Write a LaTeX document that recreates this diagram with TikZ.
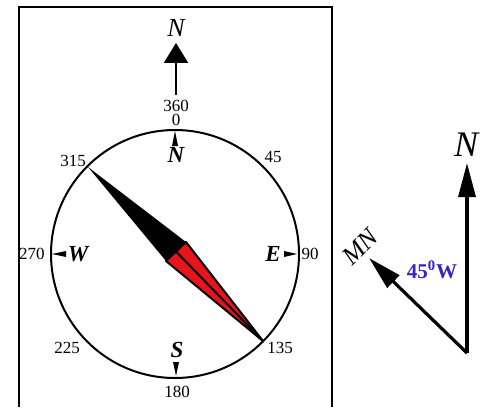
\documentclass[tikz,border=0pt]{standalone}
\usepackage{fontspec}
\setmainfont{Liberation Serif}
\usetikzlibrary{arrows.meta, positioning, calc}
\definecolor{mRed}{HTML}{E8141C}
\definecolor{mBlue}{HTML}{3B22C6}

\begin{document}
\begin{tikzpicture}[x=0.5pt, y=-0.5pt,
      num/.style={inner sep=0pt, font=\fontsize{8.5}{9}\selectfont},
      dirlbl/.style={inner sep=0pt, font=\fontsize{11.5}{12}\selectfont\bfseries\itshape},
      tickmark/.style={fill=black},
      bigarrow/.style={-{Triangle[length=17pt,width=8.5pt]}, line width=1.6pt}]
    \useasboundingbox (0,0) rectangle (492,407);
    % frame
    \draw[line width=0.75pt] (19,407) -- (19,7) -- (332,7) -- (332,407);
    % north arrow above the dial
    \node[inner sep=0pt, font=\fontsize{13}{13}\selectfont\itshape] (topN) at (176,28) {N};
    \node[num] (n360) at (176,106) {360};
    \node[num] (n0) at (176,120) {0};
    \draw[-{Triangle[length=10pt,width=12pt]}, line width=1pt,
          shorten <=2.5pt, shorten >=3pt] (n360) -- (topN);
    % dial
    \coordinate (c) at (175,254);
    \draw[line width=1pt] (c) circle[radius=62pt];
    \node[num] (n315) at (73,161) {315};
    \node[num] (n45) at (273,157) {45};
    \node[num] (n270) at (32,254) {270};
    \node[num] (n90) at (310,254) {90};
    \node[num] (n225) at (67,348) {225};
    \node[num] (n135) at (280,348) {135};
    \node[num] (n180) at (177,392) {180};
    \node[dirlbl] (dN) at (176,155) {N};
    \node[dirlbl] (dW) at (78,254) {W};
    \node[dirlbl] (dE) at (273,254) {E};
    \node[dirlbl] (dS) at (177,350) {S};
    \fill[tickmark] (175,131) -- (172,146) -- (178,146) -- cycle;
    \fill[tickmark] (52,254) -- (66,251) -- (66,257) -- cycle;
    \fill[tickmark] (297,254) -- (284,251) -- (284,257) -- cycle;
    \fill[tickmark] (176,376) -- (173,362) -- (179,362) -- cycle;
    % needle
    \coordinate (tipNW) at (88,167);
    \coordinate (tipSE) at (263,341);
    \coordinate (sh1) at (186,242);
    \coordinate (sh2) at (166,261);
    \fill (tipNW) -- (sh1) -- (sh2) -- cycle;
    \filldraw[fill=mRed, draw=black, line width=1pt, line join=round] (sh1) -- (tipSE) -- (sh2) -- cycle;
    \draw[line width=1pt] ($(sh1)!0.5!(sh2)$) -- (tipSE);
    % bearing sketch
    \coordinate (o) at (467,353);
    \coordinate (nTip) at (467,163);
    \coordinate (mnTip) at (369,258);
    \node[inner sep=0pt, font=\fontsize{18}{18}\selectfont\itshape] (rN) at (466,145) {N};
    \node[inner sep=0pt, rotate=45, font=\fontsize{13}{13}\selectfont\itshape] (mn) at (360,247) {MN};
    \node[inner sep=0pt, text=mBlue, font=\fontsize{10.5}{11}\selectfont\bfseries] (ang) at (432,270) {45\textsuperscript{0}W};
    \draw[bigarrow] (o) -- (nTip);
    \draw[bigarrow] (o) -- (mnTip);
\end{tikzpicture}
\end{document}
